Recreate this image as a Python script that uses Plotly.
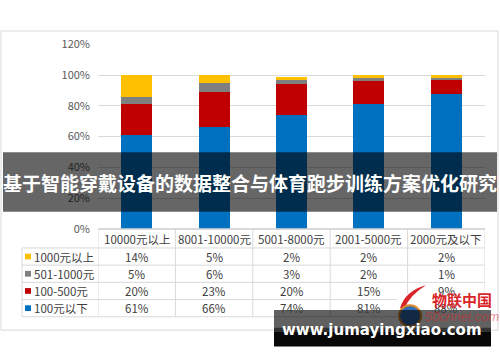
import plotly.graph_objects as go

categories = ["10000元以上", "8001-10000元", "5001-8000元", "2001-5000元", "2000元及以下"]
series_names = ["100元以下", "100-500元", "501-1000元", "1000元以上"]
v_lt100 = [61, 66, 74, 81, 88]
v_100_500 = [20, 23, 20, 15, 9]
v_501_1000 = [5, 6, 3, 2, 1]
v_gt1000 = [14, 5, 2, 2, 2]
series_values = [v_lt100, v_100_500, v_501_1000, v_gt1000]
series_colors = ["#0070C0", "#C00000", "#7F7F7F", "#FFC000"]
y_ticks = [0, 0.2, 0.4, 0.6, 0.8, 1.0, 1.2]
title_text = "基于智能穿戴设备的数据整合与体育跑步训练方案优化研究"
watermark = "www.jumayingxiao.com"

W, H = 500, 362
FONT = "Noto Sans CJK SC, Noto Sans, sans-serif"
TXT = "#404040"
LINE = "#D9D9D9"


def py(y):
    return 1 - y / H


def px(x):
    return x / W


def ann(**kw):
    d = dict(showarrow=False, xanchor="center", yanchor="middle")
    d.update(kw)
    return d


fig = go.Figure()
for name, vals, col in zip(series_names, series_values, series_colors):
    fig.add_trace(go.Bar(
        x=categories, y=[v / 100 for v in vals], name=name,
        marker=dict(color=col, line=dict(width=0)), showlegend=False, hoverinfo="skip",
    ))

shapes = []
annotations = []

# outer chart frame
shapes.append(dict(type="rect", xref="paper", yref="paper", x0=px(1), x1=px(498),
                   y0=py(336), y1=py(23), line=dict(color=LINE, width=1), layer="below"))

# data table
header_top, header_bot = 230, 250
row_edges = [250, 268, 286, 304, 322]
label_left = 22
shapes.append(dict(type="line", xref="x", yref="paper", x0=-0.5, x1=4.5,
                   y0=py(header_top), y1=py(header_top), line=dict(color=LINE, width=1)))
for ye in row_edges:
    shapes.append(dict(type="line", xref="paper", yref="paper", x0=px(label_left), x1=px(485),
                       y0=py(ye), y1=py(ye), line=dict(color=LINE, width=1)))
shapes.append(dict(type="line", xref="paper", yref="paper", x0=px(label_left), x1=px(label_left),
                   y0=py(row_edges[0]), y1=py(row_edges[-1]), line=dict(color=LINE, width=1)))
for i in range(len(categories) + 1):
    xb = i - 0.5
    shapes.append(dict(type="line", xref="x", yref="paper", x0=xb, x1=xb,
                       y0=py(header_top), y1=py(row_edges[-1]), line=dict(color=LINE, width=1)))

TS = 11.5
for c in categories:
    annotations.append(ann(x=c, xref="x", y=py((header_top + header_bot) / 2 + 1), yref="paper",
                           text=c, font=dict(family=FONT, size=TS, color=TXT)))

rows = list(zip(series_names, series_values, series_colors))[::-1]
for r, (name, vals, col) in enumerate(rows):
    yc = (row_edges[r] + row_edges[r + 1]) / 2
    shapes.append(dict(type="rect", xref="paper", yref="paper", x0=px(25), x1=px(31),
                       y0=py(yc + 3), y1=py(yc - 3), fillcolor=col, line=dict(width=0)))
    annotations.append(ann(x=px(32), xref="paper", y=py(yc), yref="paper", text=name,
                           xanchor="left", font=dict(family=FONT, size=TS, color=TXT)))
    for c, v in zip(categories, vals):
        annotations.append(ann(x=c, xref="x", y=py(yc), yref="paper", text=f"{v}%",
                               font=dict(family=FONT, size=TS, color=TXT)))

# title banner overlay
shapes.append(dict(type="rect", xref="paper", yref="paper", x0=px(3), x1=px(497),
                   y0=py(212), y1=py(150), fillcolor="rgba(0,0,0,0.6)", line=dict(width=0),
                   layer="above"))
annotations.append(ann(x=0.5, xref="paper", y=py(181), yref="paper", text=f"<b>{title_text}</b>",
                       font=dict(family="Noto Sans CJK SC", size=19, color="white")))

# logo
shapes.append(dict(type="rect", xref="paper", yref="paper", x0=px(397), x1=px(493),
                   y0=py(336), y1=py(298), fillcolor="white", line=dict(width=0), layer="above"))
shapes.append(dict(type="path", xref="paper", yref="paper",
                   path=f"M {px(400)} {py(313)} Q {px(405)} {py(295)} {px(426)} {py(289)} "
                        f"Q {px(410)} {py(299)} {px(404)} {py(314)} Z",
                   fillcolor="#D9262B", line=dict(width=0), layer="above"))
shapes.append(dict(type="circle", xref="paper", yref="paper", x0=px(399), x1=px(421),
                   y0=py(332), y1=py(310), fillcolor="#2F6DB5",
                   line=dict(color="#E08A2A", width=2), layer="above"))
annotations.append(ann(x=px(462), xref="paper", y=py(304), yref="paper", text="<b>物联中国</b>",
                       font=dict(family="Noto Sans CJK SC", size=15, color="#D9262B")))
annotations.append(ann(x=px(462), xref="paper", y=py(322), yref="paper", text="<i>50cnnet.com</i>",
                       font=dict(family="Liberation Sans", size=13, color="rgba(217,38,43,0.55)")))

# watermark band
for y0, y1, a in [(315, 333, 0.62), (333, 338, 0.8), (338, 353, 0.97)]:
    shapes.append(dict(type="rect", xref="paper", yref="paper", x0=px(274), x1=px(491),
                       y0=py(y1), y1=py(y0), fillcolor=f"rgba(0,0,0,{a})", line=dict(width=0),
                       layer="above"))
annotations.append(ann(x=px(382), xref="paper", y=py(336), yref="paper", text=f"<b>{watermark}</b>",
                       font=dict(family="DejaVu Sans", size=15, color="white")))

fig.update_layout(
    width=W, height=H, margin=dict(l=0, r=0, t=0, b=0),
    paper_bgcolor="white", plot_bgcolor="white",
    barmode="stack", bargap=0.6, hovermode=False,
    xaxis=dict(domain=[px(98), px(485)], showticklabels=False, ticks="", showgrid=False,
               showline=False, zeroline=False, range=[-0.5, 4.5], fixedrange=True),
    yaxis=dict(domain=[py(230), py(37)], range=[0, 1.2], tickvals=y_ticks, tickformat=".0%",
               showgrid=True, gridcolor=LINE, gridwidth=1, zeroline=True, zerolinecolor=LINE,
               showline=False, ticks="", ticklabelstandoff=7, fixedrange=True,
               tickfont=dict(family=FONT, size=11, color="#595959")),
    shapes=shapes, annotations=annotations, showlegend=False,
)

fig.write_html("out.html", config={"displayModeBar": False},
               post_script="document.body.style.margin='0';")
